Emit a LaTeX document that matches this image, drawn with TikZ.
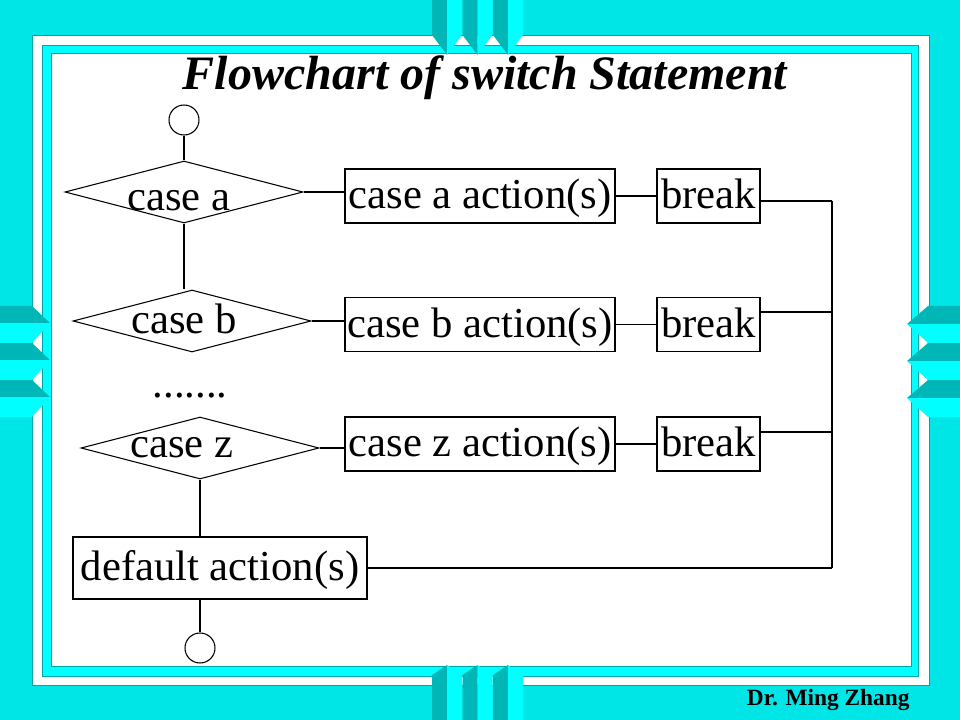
\documentclass[tikz,border=0pt]{standalone}
\usepackage{fontspec}
\setmainfont{Liberation Serif}
\usetikzlibrary{positioning,shapes.geometric}

\definecolor{bgcyan}{RGB}{0,230,230}
\definecolor{litecyan}{RGB}{0,255,255}
\definecolor{darkteal}{RGB}{0,182,182}
\definecolor{edgeteal}{RGB}{0,165,165}

\tikzset{
  decision/.style={diamond, draw, inner sep=0pt, minimum width=178.5pt, minimum height=46.5pt},
  boxtxt/.style={rectangle, draw, inner sep=0pt, text height=22pt, text depth=3pt,
    font=\fontsize{32}{38}\selectfont},
  actbox/.style={boxtxt, minimum width=202.5pt, minimum height=40.5pt},
  brkbox/.style={boxtxt, minimum width=77.25pt, minimum height=40.5pt},
  dflbox/.style={boxtxt, minimum width=220.5pt, minimum height=46.5pt},
  terminal/.style={circle, draw, inner sep=0pt, minimum size=22.5pt},
  casetxt/.style={anchor=base, inner sep=0pt, font=\fontsize{32}{38}\selectfont},
  framepart/.style={draw=edgeteal, line width=0.5pt},
}

\begin{document}
\begin{tikzpicture}[x=0.75pt,y=-0.75pt,line width=0.8pt]
\useasboundingbox (0,0) rectangle (960,720);

% slide frame
\fill[bgcyan] (0,0) rectangle (960,720);
\filldraw[framepart, fill=white] (32,35) rectangle (929,685);
\filldraw[framepart, fill=litecyan] (42,45) rectangle (918,676);
\filldraw[framepart, fill=white] (51,53) rectangle (911,666);

\foreach \bx in {432,462.5,493}{
  \fill[darkteal] (\bx,0) -- (\bx+15,0) -- (\bx+15,55) -- (\bx,35) -- cycle;
  \fill[litecyan] (\bx+15,0) -- (\bx+30,0) -- (\bx+30,35) -- (\bx+15,55) -- cycle;
  \fill[darkteal] (\bx,720) -- (\bx+15,720) -- (\bx+15,665) -- (\bx,675) -- cycle;
  \fill[litecyan] (\bx+15,720) -- (\bx+30,720) -- (\bx+30,675) -- (\bx+15,665) -- cycle;
}
\foreach \by in {306,343,380}{
  \fill[darkteal] (0,\by) -- (32,\by) -- (50,\by+17) -- (0,\by+17) -- cycle;
  \fill[litecyan] (0,\by+17) -- (50,\by+17) -- (32,\by+37) -- (0,\by+37) -- cycle;
  \fill[darkteal] (960,\by) -- (928,\by) -- (907,\by+18) -- (960,\by+18) -- cycle;
  \fill[litecyan] (960,\by+18) -- (907,\by+18) -- (928,\by+37) -- (960,\by+37) -- cycle;
}

\node[anchor=base, font=\fontsize{36}{43}\selectfont\bfseries\itshape] (title) at (485,90)
  {Flowchart of switch Statement};
\node[anchor=base east, inner sep=0pt, font=\fontsize{17.5}{21}\selectfont\bfseries] (author)
  at (910,705) {Dr. Ming Zhang};

% rows
\def\xact{480}
\def\xbrk{708.5}
\def\xbus{832}
\def\ya{196}
\def\yb{324.5}
\def\yz{444}

\node[terminal] (start) at (184,120) {};
\node[decision] (da) at (184,192) {};
\node[decision] (db) at (192,321) {};
\node[decision] (dz) at (200,448) {};
\node[casetxt] (ta) at (179,211) {case a};
\node[casetxt] (tb) at (184,333) {case b};
\node[casetxt] (tz) at (182,457) {case z};
\node[casetxt] (dots) at (190,397) {.......};

\node[actbox] (aa) at (\xact,\ya) {case a action(s)};
\node[actbox] (ab) at (\xact,\yb) {case b action(s)};
\node[actbox] (az) at (\xact,\yz) {case z action(s)};
\node[brkbox] (ba) at (\xbrk,\ya) {break};
\node[brkbox] (bb) at (\xbrk,\yb) {break};
\node[brkbox] (bz) at (\xbrk,\yz) {break};

\node[dflbox] (dflt) at (220,568) {default action(s)};
\node[terminal] (stop) at (200,648) {};

\coordinate (busa) at (\xbus,201);
\coordinate (busb) at (\xbus,312);
\coordinate (busz) at (\xbus,432);
\coordinate (busd) at (\xbus,568);

\draw (start) -- (da);
\draw (da.south) -- (da.south |- db.north);
\draw (dz.south) -- (dz.south |- dflt.north);
\draw (dz.south |- dflt.south) -- (stop);

\draw (da.east) -- (da.east -| aa.west);
\draw (db.east) -- (db.east -| ab.west);
\draw (dz.east) -- (dz.east -| az.west);
\draw (aa) -- (ba);
\draw (ab) -- (bb);
\draw (az) -- (bz);

\draw (ba.east |- busa) -- (busa);
\draw (bb.east |- busb) -- (busb);
\draw (bz.east |- busz) -- (busz);
\draw (busa) -- (busd);
\draw (dflt.east) -- (busd);

\end{tikzpicture}
\end{document}
